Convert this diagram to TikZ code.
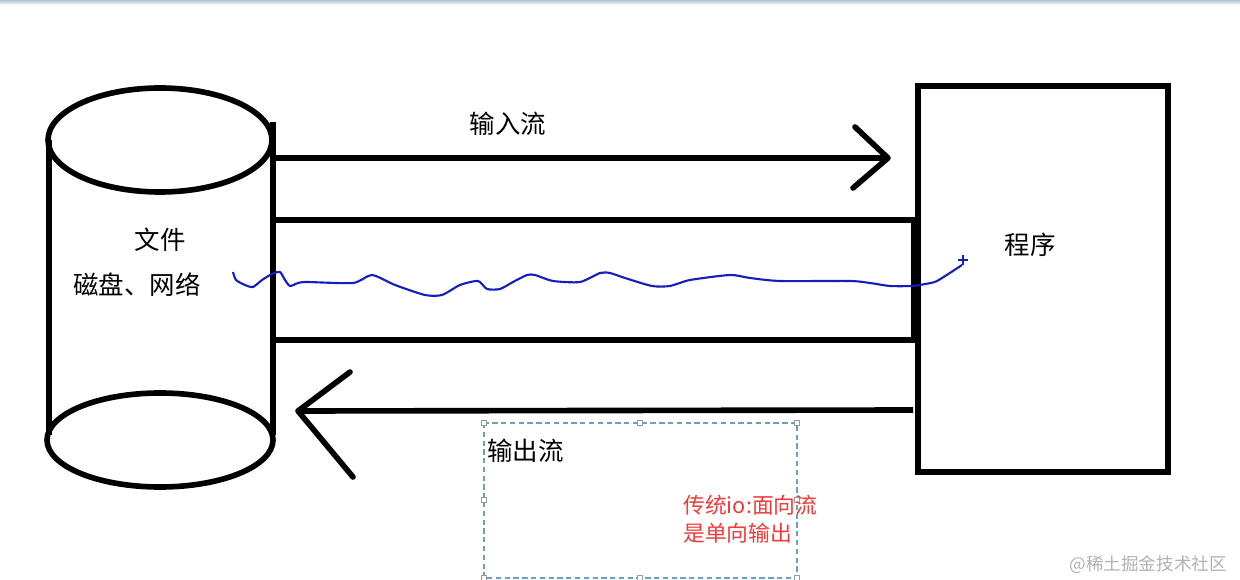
\documentclass[tikz,border=0pt]{standalone}
\usepackage{fontspec}
\newfontfamily\cjk{Noto Sans CJK SC}
\definecolor{topbar}{RGB}{178,196,214}
\definecolor{wavecol}{RGB}{20,30,190}
\definecolor{notered}{RGB}{240,60,60}
\definecolor{selcol}{RGB}{110,160,190}
\begin{document}
\begin{tikzpicture}[x=0.02cm,y=-0.02cm,
  thickline/.style={line width=3.2pt,black},
  lbl/.style={font=\cjk\fontsize{14.5}{17}\selectfont,inner sep=0pt},
  redlbl/.style={font=\cjk\fontsize{12.4}{15}\selectfont,text=notered,inner sep=0pt,align=left},
  handle/.style={draw=gray!80,fill=white,line width=0.4pt,minimum size=3pt,inner sep=0pt}]
\useasboundingbox (0,0) rectangle (1240,580);
\fill[white] (0,0) rectangle (1240,580);
\shade[top color=topbar,bottom color=white] (0,0) rectangle (1240,5);
% cylinder
\draw[thickline] (160,140) ellipse [x radius=112,y radius=52];
\draw[thickline] (160,440) ellipse [x radius=113,y radius=47];
\draw[thickline] (49,140) -- (49,435);
\draw[thickline] (273,122) -- (273,435);
% program box
\draw[thickline] (918,86) rectangle (1168,472);
% tube
\draw[thickline] (273,220) -- (916,220);
\draw[thickline] (273,340) -- (916,340);
\draw[line width=4.2pt] (915,220) -- (915,340);
% input arrow
\coordinate (inS) at (273,158);
\coordinate (inE) at (888,158);
\draw[thickline] (inS) -- (inE);
\draw[thickline,line cap=round,line join=round] (855,127) -- (inE) -- (853,188);
% output arrow
\coordinate (outS) at (913,410);
\coordinate (outE) at (298,411);
\draw[thickline] (outS) -- (outE);
\draw[thickline,line cap=round,line join=round] (350,372) -- (outE) -- (353,477);
% blue wave
\draw[wavecol,line width=1.2pt,line join=round] plot[smooth,tension=0.4] coordinates {
 (233,272) (236,280) (245,285) (253,287) (262,280) (272,274) (280,272) (285,280) (290,286) (298,283) (307,282) (353,283) (372,275) (395,285) (425,295) (442,295) (460,285) (478,281) (487,289) (500,289) (513,282) (527,275) (535,275) (553,281) (580,282) (600,273) (610,273) (625,278) (652,286) (670,286) (690,280) (730,275) (750,278) (780,281) (850,281) (870,283) (890,286) (912,286) (925,284) (937,281) (962,265)};
\draw[wavecol,line width=1pt] (958,260) -- (968,260) (963,255) -- (963,265);
% labels
\node[lbl] (input) at (508,124) {输入流};
\node[lbl] (file) at (160,240) {文件};
\node[lbl] (disk) at (137,285) {磁盘、网络};
\node[lbl] (prog) at (1030,245) {程序};
% dashed selection box
\draw[draw=selcol,line width=0.6pt,dash pattern=on 3pt off 2pt] (484,423) rectangle (797,578);
\foreach \p in {(484,423),(640,423),(797,423),(484,500),(797,500),(484,578),(640,578),(797,578)}
  \node[handle] at \p {};
\node[lbl,anchor=west] (output) at (487,451) {输出流};
\node[redlbl,anchor=north west] (note) at (683,495) {传统io:面向流\\[1pt]是单向输出};
\node[font=\cjk\fontsize{10}{12}\selectfont,text=gray!60,anchor=east] (wm) at (1233,565) {@稀土掘金技术社区};
\end{tikzpicture}
\end{document}
